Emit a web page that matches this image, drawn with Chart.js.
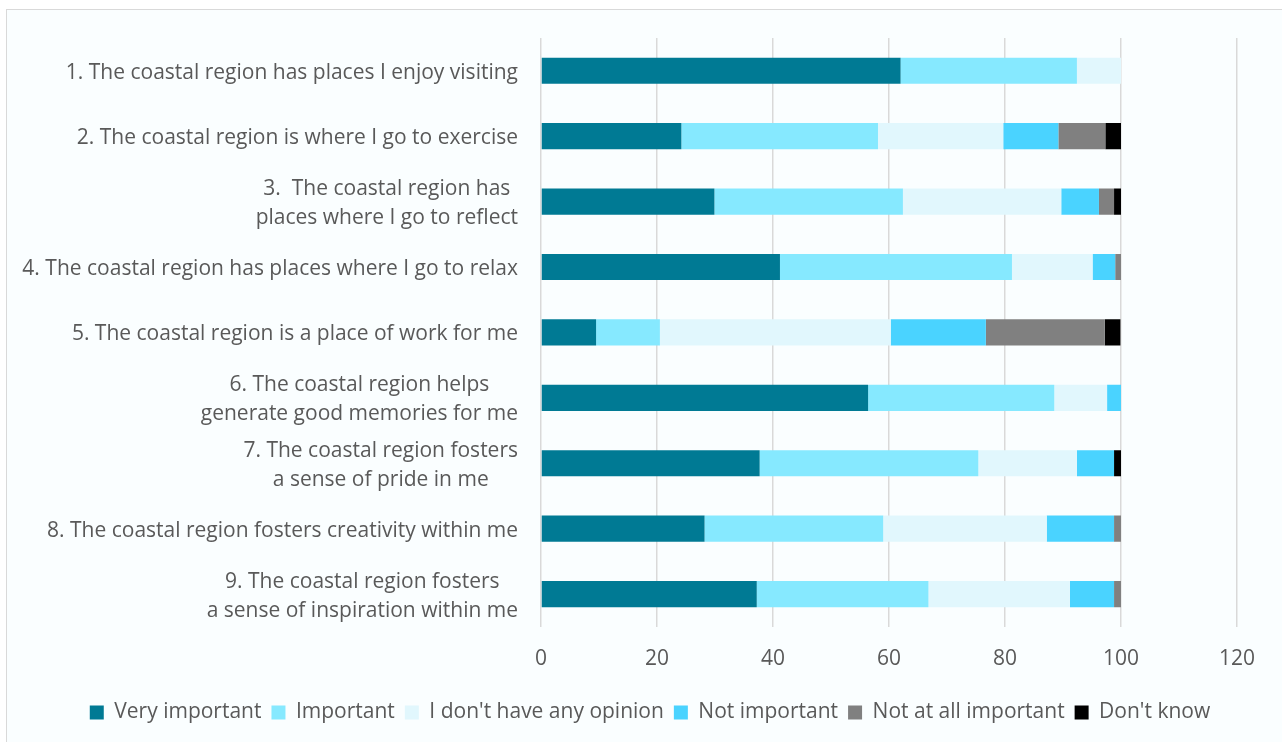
<!DOCTYPE html>
<html>
<head>
<meta charset="utf-8">
<script src="https://cdn.jsdelivr.net/npm/chart.js@4.4.1/dist/chart.umd.min.js"></script>
<style>
  html, body { margin: 0; padding: 0; background: #ffffff; overflow: hidden; }
  #frame {
    position: absolute; left: 6px; top: 9px;
    width: 1290px; height: 745px;
    border: 1.5px solid #d9d9d9;
    background: #fafeff;
  }
  #chart-canvas { display: block; }
</style>
</head>
<body>
<div id="frame">
  <canvas id="chart-canvas" width="1276" height="733"></canvas>
</div>
<script>
// statements (each entry is a list of label lines)
const statements = [
    ['1. The coastal region has places I enjoy visiting'],
    ['2. The coastal region is where I go to exercise'],
    ['3.  The coastal region has', 'places where I go to reflect'],
    ['4. The coastal region has places where I go to relax'],
    ['5. The coastal region is a place of work for me'],
    ['6. The coastal region helps', 'generate good memories for me'],
    ['7. The coastal region fosters', 'a sense of pride in me'],
    ['8. The coastal region fosters creativity within me'],
    ['9. The coastal region fosters', 'a sense of inspiration within me']
];

const seriesNames = ['Very important', 'Important', "I don't have any opinion",
    'Not important', 'Not at all important', "Don't know"];

const veryImportant = [62.0, 24.2, 29.9, 41.2, 9.5, 56.4, 37.7, 28.2, 37.2];
const important     = [30.4, 33.9, 32.5, 40.0, 11.0, 32.1, 37.7, 30.8, 29.6];
const noOpinion     = [7.6, 21.6, 27.3, 13.9, 39.8, 9.1, 17.0, 28.2, 24.4];
const notImportant  = [0, 9.5, 6.5, 3.9, 16.4, 2.4, 6.4, 11.6, 7.6];
const notAtAll      = [0, 8.1, 2.6, 1.0, 20.5, 0, 0, 1.2, 1.2];
const dontKnow      = [0, 2.7, 1.2, 0, 2.7, 0, 1.2, 0, 0];

const xTicks = [0, 20, 40, 60, 80, 100, 120];

const colors = ['#007a94', '#86e9ff', '#e1f7fd', '#4ad3ff', '#808080', '#000000'];
const textColor = '#595959';
const fontFamily = '"Open Sans", Lato, sans-serif';
const fontSize = 21;

// draws the category labels: block right aligned, lines centred inside the block
const centredLabels = {
    id: 'centredLabels',
    afterLayout(chart) {
        // legend is centred on the whole frame, not only on the padded area
        chart.legend.left += 28;
        chart.legend.right += 28;
    },
    afterDraw(chart) {
        const ctx = chart.ctx;
        const yScale = chart.scales.y;
        const rightEdge = chart.chartArea.left - 23;
        const lineHeight = 29;
        ctx.save();
        ctx.font = fontSize + 'px ' + fontFamily;
        ctx.fillStyle = textColor;
        ctx.textAlign = 'center';
        ctx.textBaseline = 'middle';
        statements.forEach((lines, i) => {
            const yMid = yScale.getPixelForValue(i) + 2;
            const maxW = Math.max(...lines.map(l => ctx.measureText(l).width));
            const cx = rightEdge - maxW / 2;
            const y0 = yMid - (lines.length - 1) * lineHeight / 2;
            lines.forEach((line, j) => {
                ctx.fillText(line, cx, y0 + j * lineHeight);
            });
        });
        ctx.restore();
    }
};

const seriesValues = [veryImportant, important, noOpinion, notImportant, notAtAll, dontKnow];

const ctx = document.getElementById('chart-canvas').getContext('2d');
const chart = new Chart(ctx, {
    type: 'bar',
    data: {
        labels: statements.map(s => s.join(' ')),
        datasets: seriesNames.map((name, i) => ({
            label: name,
            data: seriesValues[i],
            backgroundColor: colors[i],
            borderWidth: 0,
            barPercentage: 0.4,
            categoryPercentage: 1.0
        }))
    },
    options: {
        indexAxis: 'y',
        responsive: false,
        animation: false,
        layout: {
            padding: { top: 28, right: 46, bottom: 10, left: 0 }
        },
        scales: {
            x: {
                stacked: true,
                min: 0,
                max: 120,
                afterBuildTicks: (scale) => {
                    scale.ticks = xTicks.map(v => ({ value: v }));
                },
                grid: {
                    color: '#d9d9d9',
                    lineWidth: 1.5,
                    drawTicks: false
                },
                border: { display: false },
                ticks: {
                    padding: 20,
                    color: textColor,
                    font: { family: fontFamily, size: fontSize }
                }
            },
            y: {
                stacked: true,
                grid: { display: false },
                border: { display: false },
                ticks: { display: false },
                afterFit: (scale) => {
                    scale.width = 534;
                }
            }
        },
        plugins: {
            legend: {
                position: 'bottom',
                labels: {
                    boxWidth: 14,
                    boxHeight: 14,
                    padding: 10,
                    color: textColor,
                    font: { family: fontFamily, size: fontSize }
                }
            },
            tooltip: { enabled: false },
            title: { display: false }
        }
    },
    plugins: [centredLabels]
});
</script>
</body>
</html>
